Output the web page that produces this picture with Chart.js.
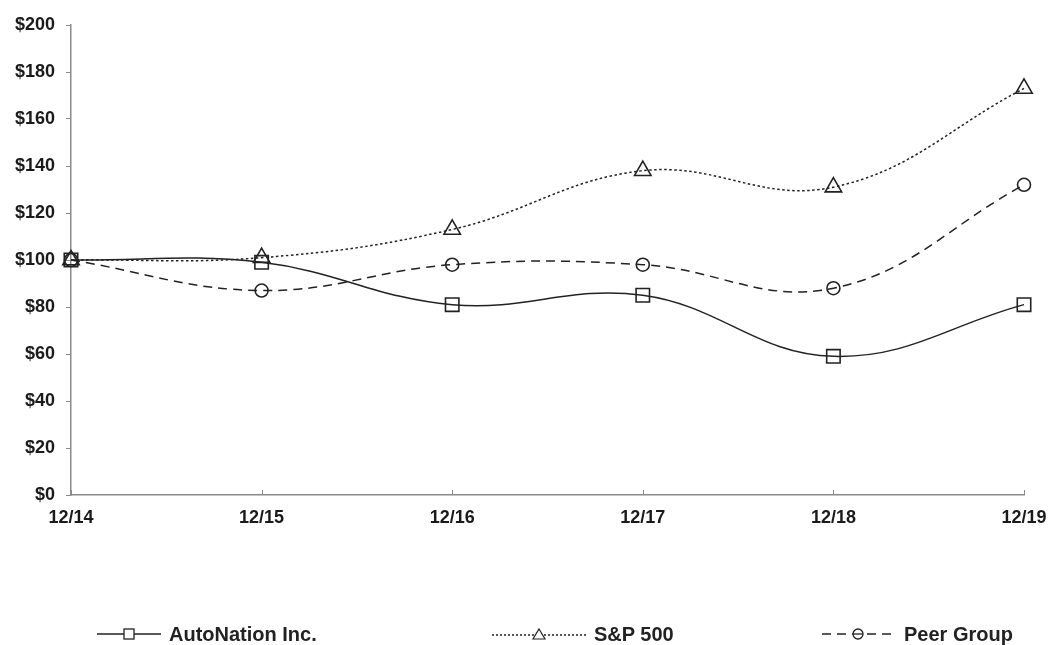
<!DOCTYPE html>
<html>
<head>
<meta charset="utf-8">
<script src="https://cdn.jsdelivr.net/npm/chart.js@4"></script>
<style>
  body { margin: 0; background: #fff; }
  #wrap { position: relative; width: 1052px; height: 645px; }
  .leg { position: absolute; top: 620px; height: 28px; display: flex; align-items: center;
         font-family: "Liberation Sans", Arial, sans-serif;
         font-weight: bold; font-size: 20px; color: #222; }
  .leg svg { margin-right: 8px; }
</style>
</head>
<body>
<div id="wrap">
  <canvas id="tsrChart" width="1052" height="645"></canvas>
  <div class="leg" style="left:97px">
    <svg width="64" height="16"><line x1="0" y1="8" x2="64" y2="8" stroke="#222" stroke-width="1.5"/><rect x="27" y="3" width="10" height="10" fill="#fff" stroke="#222" stroke-width="1.3"/></svg>AutoNation Inc.
  </div>
  <div class="leg" style="left:492px">
    <svg width="94" height="16"><line x1="0" y1="9" x2="94" y2="9" stroke="#222" stroke-width="1.3" stroke-dasharray="2,2"/><polygon points="47,3 53,13 41,13" fill="#fff" stroke="#222" stroke-width="1.2"/></svg>S&amp;P 500
  </div>
  <div class="leg" style="left:822px">
    <svg width="74" height="16"><line x1="0" y1="8" x2="74" y2="8" stroke="#222" stroke-width="1.5" stroke-dasharray="9,6"/><circle cx="36" cy="8" r="5" fill="#fff" stroke="#222" stroke-width="1.3"/><line x1="31" y1="8" x2="41" y2="8" stroke="#222" stroke-width="1.3"/></svg>Peer Group
  </div>
</div>
<script>
const years = ['12/14', '12/15', '12/16', '12/17', '12/18', '12/19'];
const autoNation = [100, 99, 81, 85, 59, 81];
const sp500 = [100, 101, 113, 138, 131, 173];
const peerGroup = [100, 87, 98, 98, 88, 132];
const yTicks = [0, 20, 40, 60, 80, 100, 120, 140, 160, 180, 200];

const AXIS_COLOR = '#8a8a8a';
const LINE_COLOR = '#222';

// x axis in the original has its tick marks pointing up into the plot
const innerTicks = {
    id: 'innerTicks',
    afterDraw(chart) {
        const x = chart.scales.x;
        const ctx = chart.ctx;
        ctx.save();
        ctx.strokeStyle = AXIS_COLOR;
        ctx.lineWidth = 1;
        for (let i = 0; i < years.length; i++) {
            const px = Math.round(x.getPixelForTick(i)) + 0.5;
            ctx.beginPath();
            ctx.moveTo(px, x.top);
            ctx.lineTo(px, x.top - 5);
            ctx.stroke();
        }
        ctx.restore();
    }
};

function makeSet(label, data, style, dash, radius) {
    return {
        label: label,
        data: data,
        borderColor: LINE_COLOR,
        borderWidth: 1.5,
        borderDash: dash,
        tension: 0.4,
        pointStyle: style,
        pointRadius: radius,
        pointBorderWidth: 1.6,
        pointBorderColor: LINE_COLOR,
        pointBackgroundColor: 'rgba(255,255,255,0)',
        fill: false
    };
}

const ctx = document.getElementById('tsrChart').getContext('2d');
new Chart(ctx, {
    type: 'line',
    data: {
        labels: years,
        datasets: [
            makeSet('AutoNation Inc.', autoNation, 'rect', [], 9.5),
            makeSet('S&P 500', sp500, 'triangle', [2.5, 2.5], 9.5),
            makeSet('Peer Group', peerGroup, 'circle', [9, 6], 6.5)
        ]
    },
    options: {
        responsive: false,
        animation: false,
        layout: { padding: { top: 25, right: 28, bottom: 0, left: 0 } },
        plugins: { legend: { display: false }, tooltip: { enabled: false } },
        scales: {
            x: {
                offset: false,
                afterFit: (s) => { s.height = 150; s.paddingLeft = 0; s.paddingRight = 0; },
                border: { color: AXIS_COLOR, width: 1.5 },
                grid: { display: true, drawOnChartArea: false, drawTicks: false },
                ticks: {
                    color: '#1a1a1a', padding: 12, maxRotation: 0,
                    font: { family: '"Liberation Sans", Arial, sans-serif', size: 18, weight: 'bold' }
                }
            },
            y: {
                min: yTicks[0],
                max: yTicks[yTicks.length - 1],
                afterFit: (s) => { s.width = 71; s.paddingTop = 0; s.paddingBottom = 0; },
                afterBuildTicks: (s) => { s.ticks = yTicks.map(v => ({ value: v })); },
                border: { color: AXIS_COLOR, width: 1.5 },
                grid: { display: true, drawOnChartArea: false, drawTicks: true, tickLength: 5, color: AXIS_COLOR },
                ticks: {
                    color: '#1a1a1a', padding: 11,
                    font: { family: '"Liberation Sans", Arial, sans-serif', size: 18, weight: 'bold' },
                    callback: (v) => '$' + v
                }
            }
        }
    },
    plugins: [innerTicks]
});
</script>
</body>
</html>
